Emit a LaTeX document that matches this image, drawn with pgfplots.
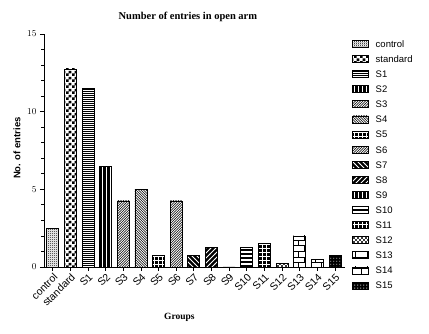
\documentclass[border=0pt]{standalone}
\usepackage{pgfplots}
\pgfplotsset{compat=1.18}
\usepackage{fontspec}
\setmainfont{Liberation Sans}
\newfontfamily\serifb{Liberation Serif}
\usetikzlibrary{patterns}
% custom dense patterns
\pgfdeclarepatternformonly{hl2}{\pgfqpoint{-0.5pt}{-0.5pt}}{\pgfqpoint{1.5pt}{2.5pt}}{\pgfqpoint{1pt}{2pt}}{%
  \pgfsetlinewidth{0.9pt}\pgfpathmoveto{\pgfqpoint{-0.1pt}{1pt}}\pgfpathlineto{\pgfqpoint{1.1pt}{1pt}}\pgfusepath{stroke}}
\pgfdeclarepatternformonly{hl4}{\pgfqpoint{-0.5pt}{-1pt}}{\pgfqpoint{1.5pt}{5pt}}{\pgfqpoint{1pt}{4pt}}{%
  \pgfsetlinewidth{1.6pt}\pgfpathmoveto{\pgfqpoint{-0.1pt}{2pt}}\pgfpathlineto{\pgfqpoint{1.1pt}{2pt}}\pgfusepath{stroke}}
\pgfdeclarepatternformonly{vl4}{\pgfqpoint{-1pt}{-0.5pt}}{\pgfqpoint{5pt}{1.5pt}}{\pgfqpoint{4pt}{1pt}}{%
  \pgfsetlinewidth{1pt}\pgfpathmoveto{\pgfqpoint{2pt}{-0.1pt}}\pgfpathlineto{\pgfqpoint{2pt}{1.1pt}}\pgfusepath{stroke}}
\pgfdeclarepatternformonly{ne2}{\pgfqpoint{-1pt}{-1pt}}{\pgfqpoint{3.5pt}{3.5pt}}{\pgfqpoint{2.5pt}{2.5pt}}{%
  \pgfsetlinewidth{0.6pt}\pgfpathmoveto{\pgfqpoint{-0.1pt}{-0.1pt}}\pgfpathlineto{\pgfqpoint{2.6pt}{2.6pt}}\pgfusepath{stroke}}
\pgfdeclarepatternformonly{nw2}{\pgfqpoint{-1pt}{-1pt}}{\pgfqpoint{3.5pt}{3.5pt}}{\pgfqpoint{2.5pt}{2.5pt}}{%
  \pgfsetlinewidth{0.6pt}\pgfpathmoveto{\pgfqpoint{-0.1pt}{2.6pt}}\pgfpathlineto{\pgfqpoint{2.6pt}{-0.1pt}}\pgfusepath{stroke}}
\pgfdeclarepatternformonly{ne5}{\pgfqpoint{-1pt}{-1pt}}{\pgfqpoint{6pt}{6pt}}{\pgfqpoint{5pt}{5pt}}{%
  \pgfsetlinewidth{0.8pt}\pgfpathmoveto{\pgfqpoint{-0.1pt}{-0.1pt}}\pgfpathlineto{\pgfqpoint{5.1pt}{5.1pt}}\pgfusepath{stroke}}
\pgfdeclarepatternformonly{nw5}{\pgfqpoint{-1pt}{-1pt}}{\pgfqpoint{6pt}{6pt}}{\pgfqpoint{5pt}{5pt}}{%
  \pgfsetlinewidth{0.8pt}\pgfpathmoveto{\pgfqpoint{-0.1pt}{5.1pt}}\pgfpathlineto{\pgfqpoint{5.1pt}{-0.1pt}}\pgfusepath{stroke}}
\pgfdeclarepatternformonly{grid4}{\pgfqpoint{-0.5pt}{-0.5pt}}{\pgfqpoint{4.5pt}{4.5pt}}{\pgfqpoint{4pt}{4pt}}{%
  \pgfsetlinewidth{0.9pt}\pgfpathmoveto{\pgfqpoint{2pt}{-0.1pt}}\pgfpathlineto{\pgfqpoint{2pt}{4.1pt}}%
  \pgfpathmoveto{\pgfqpoint{-0.1pt}{2pt}}\pgfpathlineto{\pgfqpoint{4.1pt}{2pt}}\pgfusepath{stroke}}
\pgfdeclarepatternformonly{xh4}{\pgfqpoint{-1pt}{-1pt}}{\pgfqpoint{5pt}{5pt}}{\pgfqpoint{4pt}{4pt}}{%
  \pgfsetlinewidth{0.8pt}\pgfpathmoveto{\pgfqpoint{-0.1pt}{-0.1pt}}\pgfpathlineto{\pgfqpoint{4.1pt}{4.1pt}}%
  \pgfpathmoveto{\pgfqpoint{-0.1pt}{4.1pt}}\pgfpathlineto{\pgfqpoint{4.1pt}{-0.1pt}}\pgfusepath{stroke}}
\pgfdeclarepatternformonly{check3}{\pgfpointorigin}{\pgfqpoint{6pt}{6pt}}{\pgfqpoint{6pt}{6pt}}{%
  \pgfpathrectangle{\pgfpointorigin}{\pgfqpoint{3pt}{3pt}}%
  \pgfpathrectangle{\pgfqpoint{3pt}{3pt}}{\pgfqpoint{3pt}{3pt}}\pgfusepath{fill}}
\pgfdeclarepatternformonly{check1}{\pgfpointorigin}{\pgfqpoint{2pt}{2pt}}{\pgfqpoint{2pt}{2pt}}{%
  \pgfpathrectangle{\pgfpointorigin}{\pgfqpoint{1pt}{1pt}}%
  \pgfpathrectangle{\pgfqpoint{1pt}{1pt}}{\pgfqpoint{1pt}{1pt}}\pgfusepath{fill}}
\pgfdeclarepatternformonly{dots3}{\pgfpointorigin}{\pgfqpoint{3pt}{3pt}}{\pgfqpoint{3pt}{3pt}}{%
  \pgfpathrectangle{\pgfqpoint{0.5pt}{0.5pt}}{\pgfqpoint{1pt}{1pt}}\pgfusepath{fill}}
\tikzset{bk/.style={fill=black, postaction={pattern=#1, pattern color=white}}}
\begin{document}
\begin{tikzpicture}
\path[use as bounding box] (0,0) rectangle (429pt,334pt);
\begin{axis}[
  at={(44pt,67pt)}, anchor=south west,
  scale only axis, width=301pt, height=233pt,
  ybar, bar width=12pt, bar shift=0pt,
  xmin=-0.5, xmax=16.57, ymin=0, ymax=15,
  axis x line*=bottom, axis y line*=left,
  axis line style={line width=0.8pt},
  xtick={0,...,16},
  xticklabels={control,standard,S1,S2,S3,S4,S5,S6,S7,S8,S9,S10,S11,S12,S13,S14,S15},
  x tick label style={rotate=45, anchor=north east, inner sep=1pt, font=\fontsize{10.5}{10.5}\selectfont},
  ytick={0,5,10,15}, minor y tick num=4,
  y tick label style={font=\fontsize{9.5}{9.5}\selectfont},
  tick align=outside, major tick length=4pt, minor tick length=2.5pt,
  tick style={black, line width=0.8pt},
  every axis plot/.append style={line width=0.8pt},
  title={\serifb\bfseries\fontsize{10.5}{10.5}\selectfont Number of entries in open arm},
  title style={at={(axis description cs:0.478,1)}, anchor=base, yshift=8pt},
  xlabel={\serifb\bfseries\fontsize{9.5}{9.5}\selectfont Groups},
  xlabel style={at={(axis description cs:0.45,0)}, anchor=center, yshift=-50pt},
  ylabel={\bfseries\fontsize{9.5}{9.5}\selectfont No. of entries},
  ylabel style={at={(axis description cs:0,0.51)}, anchor=center, rotate=0, yshift=27pt},
  legend image code/.code={\draw[#1,draw=black,line width=0.6pt] (0pt,-3.5pt) rectangle (16pt,3.5pt);},
  legend style={at={(1.023,0.975)}, anchor=north west, draw=none, fill=none,
    font=\fontsize{9.5}{9.5}\selectfont, row sep=7.5pt,
    inner sep=0pt, nodes={inner sep=0pt, anchor=west, text height=7pt, text depth=0pt},
    /tikz/every odd column/.append style={column sep=7pt}},
  legend cell align=left,
]
\addplot[draw=black, pattern=check1] coordinates {(0,2.5)};
\addlegendentry{control}
\addplot[draw=black, pattern=check3] coordinates {(1,12.75)};
\addlegendentry{standard}
\addplot[draw=black, pattern=hl2] coordinates {(2,11.5)};
\addlegendentry{S1}
\addplot[draw=black, bk=vl4] coordinates {(3,6.5)};
\addlegendentry{S2}
\addplot[draw=black, pattern=ne2] coordinates {(4,4.25)};
\addlegendentry{S3}
\addplot[draw=black, pattern=nw2] coordinates {(5,5.0)};
\addlegendentry{S4}
\addplot[draw=black, bk=grid4] coordinates {(6,0.75)};
\addlegendentry{S5}
\addplot[draw=black, pattern=ne2] coordinates {(7,4.25)};
\addlegendentry{S6}
\addplot[draw=black, bk=nw5] coordinates {(8,0.75)};
\addlegendentry{S7}
\addplot[draw=black, bk=ne5] coordinates {(9,1.25)};
\addlegendentry{S8}
\addplot[draw=black, bk=vl4] coordinates {(10,0)};
\addlegendentry{S9}
\addplot[draw=black, bk=hl4] coordinates {(11,1.25)};
\addlegendentry{S10}
\addplot[draw=black, bk=grid4] coordinates {(12,1.5)};
\addlegendentry{S11}
\addplot[draw=black, bk=xh4] coordinates {(13,0.25)};
\addlegendentry{S12}
\addplot[draw=black, pattern=bricks] coordinates {(14,2.0)};
\addlegendentry{S13}
\addplot[draw=black, pattern=bricks] coordinates {(15,0.5)};
\addlegendentry{S14}
\addplot[draw=black, bk=dots3] coordinates {(16,0.75)};
\addlegendentry{S15}
\end{axis}
\end{tikzpicture}
\end{document}
